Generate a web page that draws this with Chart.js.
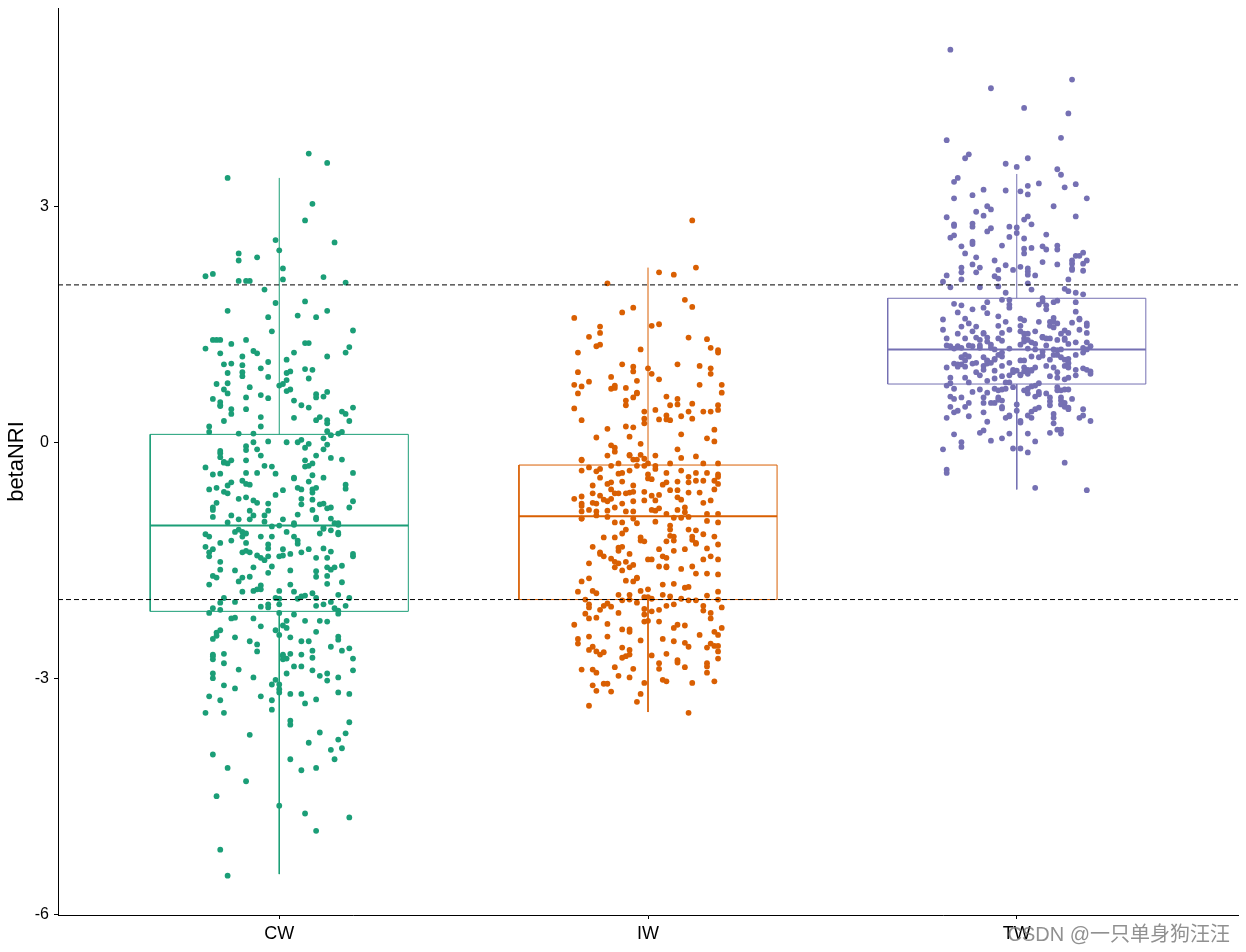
<!DOCTYPE html>
<html>
<head>
<meta charset="utf-8">
<script src="https://cdn.jsdelivr.net/npm/chart.js@4"></script>
<style>
  html, body { margin: 0; padding: 0; background: #fff; }
  canvas { display: block; }
</style>
</head>
<body>
<canvas id="boxChart" width="1246" height="952"></canvas>
<script>
// groups and box statistics (betaNRI)
const categories = ['CW', 'IW', 'TW'];
const q1s = [-2.15, -2.00, 0.74];
const medians = [-1.06, -0.94, 1.18];
const q3s = [0.10, -0.29, 1.83];
const whiskerLows = [-5.49, -3.43, -0.60];
const whiskerHighs = [3.36, 2.22, 3.41];
const yTicks = [-6, -3, 0, 3];
const refLines = [-2, 2];

// jittered points: [jitter offset from group centre, betaNRI]
const cwPoints = [
  [0.08,3.67],[0.13,3.55],[-0.14,3.36],[0.09,3.03],[0.07,2.82],[-0.01,2.57],[0.00,2.44],[0.15,2.54],[-0.11,2.40],[-0.11,2.31],
  [-0.06,2.35],[0.01,2.21],[-0.20,2.11],[-0.18,2.14],[-0.11,2.05],[-0.09,2.05],[-0.08,2.05],[0.01,2.07],[0.12,2.10],[0.18,2.03],
  [-0.04,1.94],[-0.01,1.77],[0.07,1.79],[-0.14,1.67],[0.13,1.67],[0.05,1.61],[-0.03,1.59],[0.10,1.59],[0.20,1.42],[-0.02,1.41],
  [-0.18,1.30],[-0.17,1.30],[-0.16,1.30],[-0.09,1.30],[-0.20,1.19],[-0.13,1.25],[0.07,1.26],[0.08,1.26],[0.19,1.21],[0.18,1.14],
  [-0.16,1.13],[-0.07,1.16],[-0.06,1.13],[0.04,1.14],[-0.10,1.09],[0.13,1.09],[0.02,1.05],[-0.15,0.99],[-0.13,1.00],[-0.10,0.98],
  [-0.03,1.02],[0.07,0.93],[0.09,0.92],[-0.14,0.88],[-0.10,0.89],[-0.10,0.84],[-0.05,0.94],[0.02,0.88],[0.03,0.90],[-0.03,0.83],
  [0.08,0.81],[-0.17,0.74],[-0.14,0.75],[-0.08,0.70],[0.00,0.72],[0.01,0.74],[0.02,0.79],[-0.15,0.67],[-0.14,0.62],[0.02,0.65],
  [0.03,0.67],[-0.18,0.55],[-0.09,0.57],[-0.05,0.60],[-0.03,0.56],[0.04,0.53],[0.10,0.61],[0.10,0.57],[0.12,0.58],[0.13,0.64],
  [-0.16,0.51],[-0.16,0.47],[-0.16,0.46],[0.06,0.47],[0.08,0.44],[-0.13,0.42],[-0.13,0.36],[-0.09,0.42],[0.20,0.44],[0.17,0.39],
  [0.18,0.36],[-0.05,0.32],[0.04,0.31],[-0.15,0.27],[0.10,0.28],[0.11,0.32],[0.13,0.28],[0.13,0.24],[0.19,0.27],[-0.19,0.20],
  [-0.05,0.20],[-0.19,0.13],[-0.11,0.11],[-0.07,0.11],[0.13,0.14],[0.17,0.13],[0.14,0.09],[0.16,0.11],
  [0.06,0.03],[0.05,0.00],[0.12,0.05],[0.13,-0.03],[0.08,-0.02],[0.07,-0.07],[-0.09,-0.05],[-0.09,-0.10],[-0.06,-0.09],[-0.07,0.00],
  [-0.03,0.01],[0.02,0.00],[0.12,-0.09],[-0.16,-0.11],[-0.16,-0.14],[-0.16,-0.19],[-0.15,-0.25],[-0.14,-0.27],[-0.15,-0.26],[-0.13,-0.23],
  [-0.05,-0.17],[-0.09,-0.23],[0.07,-0.23],[0.10,-0.17],[0.14,-0.20],[0.17,-0.22],[0.09,-0.27],[-0.20,-0.32],[-0.04,-0.30],[-0.02,-0.31],
  [0.07,-0.31],[0.08,-0.30],[-0.09,-0.39],[-0.06,-0.39],[-0.01,-0.40],[-0.18,-0.41],[-0.16,-0.40],[0.20,-0.39],[0.09,-0.42],[0.12,-0.45],
  [0.04,-0.45],[0.04,-0.46],[-0.10,-0.49],[-0.13,-0.51],[-0.14,-0.55],[-0.09,-0.53],[-0.08,-0.54],[0.08,-0.50],[0.18,-0.54],[0.18,-0.59],
  [-0.19,-0.60],[-0.17,-0.58],[-0.15,-0.63],[-0.14,-0.65],[0.01,-0.61],[0.05,-0.58],[0.06,-0.60],[0.09,-0.64],[0.09,-0.60],[0.10,-0.58],
  [-0.01,-0.67],[-0.11,-0.72],[-0.09,-0.70],[-0.07,-0.74],[-0.06,-0.77],[-0.03,-0.78],[0.06,-0.72],[0.09,-0.73],[-0.17,-0.77],[0.20,-0.75],
  [0.06,-0.79],[0.11,-0.79],[0.12,-0.78],[0.13,-0.84],[0.14,-0.83],[0.19,-0.83],[-0.18,-0.83],[-0.18,-0.86],[-0.08,-0.87],[-0.03,-0.87],
  [0.09,-0.86],[-0.18,-0.95],[-0.13,-0.93],[-0.07,-0.93],[-0.04,-0.93],[0.05,-0.92],[0.10,-0.96],[0.10,-0.98],[-0.11,-0.98],[-0.08,-0.98],
  [-0.04,-1.01],[0.01,-0.98],[-0.14,-1.02],[0.04,-1.05],[0.04,-1.03],[0.14,-0.97],[0.15,-1.03],[0.16,-1.05],[0.16,-1.03],[-0.02,-1.07],
  [0.00,-1.06],[0.12,-1.09],[0.12,-1.10],[-0.20,-1.17],[-0.19,-1.20],[-0.12,-1.14],[-0.11,-1.11],[-0.10,-1.14],[-0.10,-1.20],[-0.09,-1.16],
  [-0.05,-1.20],[-0.02,-1.20],[0.02,-1.14],[0.04,-1.20],[0.05,-1.25],[0.05,-1.29],[0.11,-1.16],[0.14,-1.12],[0.16,-1.15],[0.16,-1.17],
  [-0.16,-1.28],[-0.13,-1.25],[-0.09,-1.28],[-0.20,-1.33],[-0.19,-1.40],[-0.18,-1.36],[-0.19,-1.45],[-0.10,-1.40],[-0.09,-1.38],[-0.08,-1.40],
  [-0.06,-1.44],[-0.05,-1.47],[-0.04,-1.50],[-0.03,-1.45],[-0.03,-1.35],[-0.03,-1.30],[0.01,-1.36],[0.00,-1.45],[0.01,-1.44],[0.03,-1.42],
  [0.06,-1.40],[0.08,-1.36],[0.10,-1.47],[0.12,-1.35],[0.13,-1.47],[0.14,-1.39],[0.20,-1.42],[0.20,-1.45],[-0.16,-1.52],[-0.12,-1.63],
  [-0.07,-1.59],[-0.02,-1.58],[0.03,-1.63],[0.10,-1.64],[0.10,-1.71],[0.13,-1.59],[0.14,-1.62],[0.15,-1.59],[0.17,-1.57],[-0.18,-1.70],
  [-0.16,-1.62],[-0.17,-1.72],[-0.10,-1.72],[-0.08,-1.71],[-0.03,-1.66],[0.13,-1.70],[-0.19,-1.81],[-0.11,-1.77],[-0.10,-1.90],[-0.07,-1.89],
  [-0.06,-1.87],[-0.05,-1.82],[-0.05,-1.87],[0.03,-1.81],[0.04,-1.90],[0.06,-1.96],[0.07,-1.95],[0.09,-1.92],[0.10,-1.98],[0.13,-1.80],
  [0.17,-1.78],[0.16,-1.94],[0.19,-1.98],[-0.15,-1.98],[-0.12,-2.03],[-0.16,-2.04],[0.00,-1.89],[-0.01,-1.98],[0.00,-1.99],[-0.05,-2.09],
  [-0.03,-2.10],[-0.03,-2.06],[0.00,-2.06],[0.05,-1.99],[0.10,-2.08],[0.12,-2.06],[0.14,-2.03],[0.18,-2.08],[0.15,-2.11],[0.16,-2.14],
  [-0.18,-2.11],[-0.16,-2.13],[-0.19,-2.17],[0.00,-2.17],[0.16,-2.18],[0.04,-2.19],[-0.13,-2.24],[-0.12,-2.23],[-0.07,-2.24],[-0.05,-2.34],
  [0.02,-2.27],[0.07,-2.27],[0.11,-2.27],[0.13,-2.28],[0.01,-2.33],[0.02,-2.36],[0.10,-2.41],[-0.01,-2.39],[0.00,-2.45],[-0.17,-2.42],
  [-0.17,-2.46],[-0.16,-2.39],[-0.18,-2.50],[-0.12,-2.48],[0.03,-2.48],[0.06,-2.53],[0.08,-2.53],[0.16,-2.47],[0.16,-2.51],[0.14,-2.60],
  [0.17,-2.65],[0.19,-2.62],[-0.08,-2.53],[-0.06,-2.57],[-0.06,-2.66],[0.01,-2.70],[0.01,-2.76],[0.02,-2.75],[0.01,-2.72],[0.03,-2.69],
  [0.06,-2.70],[0.09,-2.65],[0.09,-2.74],[-0.15,-2.69],[-0.15,-2.81],[-0.18,-2.70],[-0.18,-2.76],[-0.18,-2.72],[0.04,-2.85],[0.06,-2.85],
  [0.09,-2.90],[0.13,-2.94],[0.11,-2.97],[0.13,-3.03],[0.20,-2.75],[0.20,-2.90],[-0.11,-2.89],[0.02,-2.94],[0.16,-2.99],[-0.18,-2.94],
  [-0.18,-3.00],[-0.07,-2.99],[-0.01,-3.02],[-0.02,-3.08],[0.00,-3.08],[0.00,-3.14],[0.00,-3.18],[0.03,-3.20],[0.06,-3.20],[0.07,-3.32],
  [0.10,-3.27],[0.16,-3.18],[0.19,-3.20],[-0.12,-3.13],[-0.15,-3.09],[-0.19,-3.23],[-0.16,-3.28],[-0.15,-3.44],[-0.20,-3.44],[-0.05,-3.23],
  [-0.02,-3.28],[-0.02,-3.40],[0.03,-3.54],[0.03,-3.59],[0.19,-3.56],[0.18,-3.70],[0.16,-3.78],[0.17,-3.89],[0.14,-3.91],[0.15,-4.03],
  [0.11,-3.69],[0.08,-3.82],[-0.08,-3.72],[-0.18,-3.97],[0.03,-4.03],[-0.14,-4.14],[-0.09,-4.31],[0.06,-4.17],[0.10,-4.14],[-0.17,-4.50],
  [0.00,-4.62],[0.07,-4.72],[0.19,-4.77],[0.10,-4.94],[-0.16,-5.18],[-0.14,-5.51]
];

const iwPoints = [
  [0.12,2.82],[0.03,2.16],[0.07,2.13],[0.13,2.22],[-0.11,2.02],[0.10,1.81],[0.12,1.72],[-0.20,1.58],[-0.07,1.65],[-0.04,1.71],
  [-0.13,1.47],[-0.13,1.39],[-0.16,1.34],[-0.14,1.22],[-0.13,1.24],[-0.19,1.14],[0.01,1.48],[0.03,1.50],[0.11,1.33],[0.16,1.31],
  [0.17,1.20],[0.19,1.17],[0.19,1.14],[-0.02,1.18],[-0.19,0.89],[-0.20,0.73],[-0.18,0.71],[-0.19,0.62],[-0.16,0.77],[-0.10,0.83],
  [-0.07,0.99],[-0.04,0.96],[-0.04,0.90],[0.00,0.94],[0.01,0.87],[-0.03,0.78],[-0.10,0.68],[-0.09,0.69],[-0.09,0.72],[-0.06,0.69],
  [0.03,0.80],[0.08,0.99],[0.14,0.97],[0.17,0.94],[0.17,0.87],[0.14,0.73],[0.20,0.73],[0.20,0.63],[-0.03,0.63],[-0.03,0.62],
  [-0.04,0.57],[-0.06,0.53],[-0.06,0.47],[-0.20,0.43],[-0.18,0.28],[-0.01,0.39],[0.02,0.41],[0.05,0.58],[0.06,0.47],[0.08,0.55],
  [0.08,0.48],[0.12,0.49],[0.11,0.39],[0.15,0.39],[0.17,0.39],[0.19,0.47],[0.19,0.41],[-0.01,0.30],[-0.01,0.24],[0.03,0.29],
  [0.05,0.34],[0.05,0.29],[0.06,0.28],[0.09,0.33],[0.12,0.30],[-0.11,0.17],[-0.06,0.20],[-0.04,0.19],[-0.14,0.06],[-0.05,0.07],
  [0.09,0.10],[0.18,0.16],[0.16,0.05],[0.18,0.01],[-0.02,-0.02],[-0.10,-0.04],[-0.09,-0.07],[-0.09,-0.12],[-0.11,-0.17],[-0.05,-0.17],
  [-0.05,-0.16],[-0.02,-0.16],[-0.01,-0.21],[0.02,-0.17],[0.08,-0.09],[0.09,-0.20],[0.13,-0.18],[-0.18,-0.22],
  [-0.18,-0.23],[-0.16,-0.32],[-0.18,-0.36],[-0.13,-0.34],[-0.14,-0.37],[-0.10,-0.30],[-0.08,-0.27],[-0.07,-0.39],[-0.08,-0.40],[-0.05,-0.36],
  [-0.04,-0.22],[-0.03,-0.22],[-0.03,-0.30],[-0.01,-0.30],[0.00,-0.27],[0.02,-0.30],[0.02,-0.34],[0.00,-0.41],[0.05,-0.39],[0.06,-0.27],
  [0.09,-0.36],[0.11,-0.44],[0.13,-0.39],[0.15,-0.27],[0.16,-0.39],[0.19,-0.27],[0.19,-0.41],[0.19,-0.44],[0.18,-0.49],[-0.13,-0.45],
  [-0.11,-0.53],[-0.15,-0.55],[-0.10,-0.51],[-0.07,-0.50],[-0.04,-0.55],[0.00,-0.46],[0.01,-0.47],[0.04,-0.54],[0.05,-0.51],[0.08,-0.50],
  [0.11,-0.51],[0.13,-0.49],[0.15,-0.49],[-0.15,-0.65],[-0.13,-0.68],[-0.12,-0.73],[-0.14,-0.78],[-0.18,-0.69],[-0.20,-0.72],[-0.18,-0.78],
  [-0.18,-0.81],[-0.18,-0.88],[-0.18,-0.97],[-0.16,-0.86],[-0.15,-0.77],[-0.14,-0.88],[-0.11,-0.75],[-0.11,-0.87],[-0.10,-0.60],[-0.09,-0.65],
  [-0.10,-0.72],[-0.08,-0.65],[-0.06,-0.65],[-0.05,-0.64],[-0.04,-0.63],[-0.07,-0.78],[-0.09,-0.83],[-0.06,-0.88],[-0.04,-0.75],[-0.04,-0.88],
  [-0.04,-0.97],[-0.01,-0.74],[-0.01,-0.63],[0.01,-0.68],[0.02,-0.74],[0.01,-0.86],[0.02,-0.87],[0.03,-0.84],[0.05,-0.91],[0.03,-0.67],
  [0.06,-0.61],[0.08,-0.70],[0.08,-0.61],[0.09,-0.73],[0.11,-0.64],[0.14,-0.64],[0.15,-0.77],[0.17,-0.74],[0.18,-0.60],[0.19,-0.53],
  [0.08,-0.86],[0.07,-0.96],[0.09,-0.96],[0.10,-0.89],[0.10,-0.83],[0.11,-0.95],[0.16,-0.91],[0.19,-0.91],[-0.11,-0.95],[-0.14,-0.93],
  [-0.18,-0.97],[-0.09,-1.02],[-0.07,-1.02],[0.16,-1.00],[0.19,-1.02],[-0.03,-1.03],[0.02,-1.01],[0.06,-1.06],[0.06,-1.11],[0.11,-1.11],
  [0.13,-1.12],[0.15,-1.17],[0.18,-1.20],[-0.12,-1.21],[-0.09,-1.21],[-0.07,-1.16],[-0.06,-1.11],[-0.02,-1.21],[-0.02,-1.25],[-0.01,-1.26],
  [0.06,-1.19],[0.07,-1.20],[0.07,-1.25],[0.05,-1.26],[0.12,-1.20],[0.12,-1.24],[0.13,-1.28],[0.13,-1.29],[-0.15,-1.33],[-0.13,-1.42],
  [-0.13,-1.40],[-0.12,-1.45],[-0.08,-1.38],[-0.08,-1.34],[-0.07,-1.33],[-0.05,-1.42],[0.03,-1.36],[0.07,-1.38],[0.10,-1.36],[0.16,-1.35],
  [0.19,-1.30],[-0.10,-1.48],[-0.09,-1.52],[-0.08,-1.54],[-0.09,-1.59],[-0.16,-1.54],[-0.06,-1.52],[-0.05,-1.59],[-0.04,-1.56],[-0.07,-1.63],
  [0.00,-1.49],[0.01,-1.49],[0.04,-1.45],[0.05,-1.47],[0.03,-1.58],[0.05,-1.59],[0.05,-1.58],[0.09,-1.61],[0.12,-1.58],[0.13,-1.67],
  [0.15,-1.49],[0.16,-1.67],[0.17,-1.45],[0.19,-1.49],[0.19,-1.68],[-0.18,-1.77],[-0.16,-1.73],[-0.06,-1.76],[-0.04,-1.77],[-0.03,-1.73],
  [-0.03,-1.72],[0.04,-1.81],[0.07,-1.80],[-0.19,-1.90],[-0.15,-1.89],[-0.14,-1.92],[-0.17,-2.00],[-0.08,-1.94],[-0.05,-1.94],[-0.02,-1.89],
  [0.00,-1.87],[-0.01,-1.97],[0.00,-1.97],[0.01,-1.99],[0.04,-1.94],[0.06,-1.96],[0.09,-1.99],[0.10,-1.85],[0.11,-1.84],[0.11,-2.01],
  [0.13,-2.01],[0.16,-1.95],[0.19,-1.90],[0.19,-2.00],[-0.07,-2.01],[-0.05,-2.00],[-0.03,-2.04],[-0.16,-2.06],[-0.16,-2.10],[-0.17,-2.18],
  [-0.16,-2.24],[-0.14,-2.23],[-0.13,-2.13],[-0.12,-2.08],[-0.11,-2.05],[-0.10,-2.09],[-0.08,-2.17],[-0.01,-2.12],[-0.01,-2.19],[0.01,-2.15],
  [-0.01,-2.28],[0.00,-2.27],[0.03,-2.13],[0.03,-2.28],[0.05,-2.08],[0.07,-2.06],[0.15,-2.08],[0.15,-2.14],[0.17,-2.17],[0.17,-2.24],
  [0.20,-2.10],[-0.20,-2.32],[-0.11,-2.31],[-0.07,-2.38],[-0.05,-2.38],[-0.05,-2.41],[0.07,-2.36],[0.08,-2.32],[0.10,-2.33],[0.20,-2.36],
  [0.18,-2.41],[0.19,-2.45],[0.14,-2.45],[-0.16,-2.47],[-0.19,-2.50],[-0.19,-2.56],[-0.11,-2.47],[-0.02,-2.52],[0.04,-2.50],[0.07,-2.53],
  [0.10,-2.55],[0.11,-2.60],[0.17,-2.56],[0.16,-2.61],[0.18,-2.59],[0.19,-2.59],[0.19,-2.66],[0.19,-2.75],[-0.16,-2.64],[-0.15,-2.60],
  [-0.14,-2.66],[-0.13,-2.70],[-0.12,-2.67],[-0.07,-2.61],[-0.07,-2.74],[-0.06,-2.72],[-0.05,-2.64],[-0.05,-2.70],[0.05,-2.69],[0.01,-2.71],
  [0.03,-2.81],[0.08,-2.77],[0.08,-2.80],[0.16,-2.81],[0.16,-2.85],[-0.18,-2.89],[-0.15,-2.89],[-0.14,-2.93],[-0.09,-2.86],[-0.04,-2.88],
  [-0.08,-2.97],[-0.05,-2.99],[0.03,-2.88],[0.04,-3.02],[0.05,-3.04],[0.10,-2.86],[0.16,-2.93],[0.18,-3.04],[-0.01,-3.06],[0.12,-3.06],
  [-0.15,-3.09],[-0.14,-3.16],[-0.12,-3.07],[-0.11,-3.07],[-0.10,-3.17],[-0.02,-3.20],[-0.03,-3.30],[-0.16,-3.35],[0.11,-3.44]
];

const twPoints = [
  [-0.18,4.99],[0.15,4.61],[-0.07,4.50],[0.02,4.25],[0.14,4.18],[-0.19,3.84],[0.12,3.87],[-0.13,3.66],[-0.14,3.61],[0.03,3.61],
  [-0.03,3.54],[0.00,3.50],[0.11,3.47],[0.12,3.40],[-0.16,3.36],[-0.17,3.31],[0.06,3.29],[0.03,3.26],[0.13,3.24],[0.16,3.28],
  [0.01,3.19],[0.03,3.15],[-0.03,3.20],[-0.09,3.21],[-0.12,3.14],[-0.17,3.10],[0.19,3.10],[0.10,3.00],[-0.08,3.00],[-0.07,2.96],
  [-0.11,2.93],[-0.09,2.88],[-0.19,2.86],[0.03,2.87],[0.02,2.83],[0.16,2.87],[-0.17,2.77],[-0.17,2.75],[-0.12,2.78],[-0.12,2.74],
  [0.04,2.77],[-0.02,2.74],[0.00,2.73],[0.00,2.66],[-0.08,2.68],[-0.07,2.72],[-0.18,2.60],[-0.17,2.63],[-0.02,2.61],[0.02,2.59],
  [0.08,2.64],[-0.12,2.55],[-0.12,2.52],[-0.15,2.49],[-0.04,2.50],[0.02,2.46],[0.02,2.40],[0.04,2.47],[0.07,2.49],[0.08,2.45],
  [0.11,2.50],[0.11,2.45],[-0.14,2.40],[-0.11,2.35],[-0.06,2.31],[0.07,2.29],[0.11,2.26],[0.16,2.37],[0.18,2.41],[0.17,2.37],
  [0.15,2.31],[0.15,2.27],[0.19,2.31],[0.18,2.27],[-0.12,2.26],[-0.10,2.22],[-0.15,2.22],[-0.15,2.16],[-0.11,2.16],[-0.05,2.19],
  [-0.03,2.25],[-0.01,2.19],[0.01,2.23],[0.03,2.21],[0.03,2.17],[0.03,2.13],[0.05,2.12],[0.15,2.19],[0.15,2.21],[0.18,2.18],
  [-0.19,2.12],[-0.15,2.07],[-0.06,2.11],[-0.05,2.08],[0.14,2.07],
  [-0.20,2.04],[-0.18,1.97],[-0.10,1.97],[-0.05,1.98],[-0.03,1.90],[-0.04,1.81],[-0.02,1.81],[0.04,1.94],[0.03,2.02],[0.13,1.95],
  [0.14,1.92],[0.16,1.90],[0.18,1.88],[-0.17,1.76],[-0.15,1.74],[-0.16,1.65],[-0.14,1.57],[-0.12,1.69],[-0.09,1.71],[-0.08,1.78],
  [-0.08,1.64],[-0.05,1.60],[-0.02,1.75],[-0.02,1.71],[0.06,1.75],[0.07,1.79],[0.07,1.83],[0.08,1.74],[0.08,1.69],[0.10,1.78],
  [0.11,1.80],[0.16,1.78],[0.16,1.66],[0.17,1.57],[0.10,1.58],[-0.20,1.56],[-0.20,1.43],[-0.15,1.47],[-0.16,1.38],[-0.13,1.51],
  [-0.12,1.41],[-0.11,1.47],[-0.09,1.38],[-0.09,1.39],[-0.08,1.33],[-0.05,1.48],[-0.04,1.39],[-0.03,1.53],[-0.02,1.43],[0.01,1.41],
  [0.01,1.57],[0.02,1.55],[0.01,1.48],[0.02,1.38],[0.03,1.38],[0.02,1.32],[0.06,1.53],[0.05,1.41],[0.07,1.34],[0.07,1.34],
  [0.09,1.53],[0.09,1.48],[0.10,1.53],[0.11,1.51],[0.10,1.46],[0.12,1.38],[0.13,1.42],[0.13,1.32],[0.15,1.52],[0.14,1.39],
  [0.17,1.43],[0.17,1.56],[0.19,1.51],[0.19,1.48],[0.19,1.39],[-0.19,1.32],[-0.14,1.32],[-0.11,1.33],[-0.10,1.30],[-0.08,1.28],
  [-0.05,1.32],[-0.04,1.29],[-0.07,1.24],[-0.07,1.20],[0.01,1.24],[0.02,1.28],[0.03,1.30],[0.04,1.27],[0.05,1.25],[0.07,1.33],
  [0.08,1.32],[0.09,1.32],[0.11,1.30],[0.13,1.30],[0.14,1.25],[0.16,1.27],[0.19,1.27],[0.18,1.20],[0.20,1.22],[-0.19,1.23],
  [-0.18,1.22],[-0.16,1.22],[-0.17,1.19],[-0.15,1.20],[-0.13,1.23],[-0.12,1.22],[-0.10,1.20],[-0.10,1.23],[-0.06,1.18],[-0.02,1.19],
  [0.03,1.19],[0.05,1.18],[0.08,1.23],[0.10,1.18],[0.12,1.18],[-0.14,1.11],[-0.15,1.08],[-0.14,1.04],[-0.13,1.09],[-0.11,1.01],
  [-0.09,1.08],[-0.08,1.03],[-0.08,1.04],[-0.06,1.06],[-0.05,1.11],[-0.04,1.09],[-0.04,1.14],[-0.07,1.01],[-0.06,1.05],[0.01,1.04],
  [0.02,1.04],[0.04,1.09],[0.06,1.08],[0.07,1.15],[0.07,1.10],[0.09,1.05],[0.10,1.11],[0.11,1.17],[0.11,1.11],[0.12,1.08],
  [0.13,1.05],[0.14,1.06],[0.14,1.01],[0.16,1.11],[0.18,1.14],[0.19,1.18],[-0.19,0.95],[-0.17,1.00],[-0.16,0.99],[-0.16,0.96],
  [-0.15,0.99],[-0.14,0.96],[-0.12,1.00],[-0.09,0.97],[-0.08,1.00],[-0.04,0.97],[-0.02,1.01],[-0.01,0.92],[0.00,0.91],[0.02,0.95],
  [0.03,0.92],[0.04,0.91],[0.05,0.95],[0.08,0.97],[0.10,0.95],[0.13,0.97],[0.14,1.00],[0.14,0.95],[0.16,0.92],[0.18,0.94],
  [0.19,0.92],[0.20,0.90],[0.20,0.87],[-0.18,0.82],[-0.19,0.72],[-0.18,0.75],[-0.14,0.82],[-0.11,0.89],[-0.10,0.85],[-0.09,0.92],
  [-0.06,0.91],[-0.04,0.84],[-0.02,0.85],[-0.01,0.89],[0.01,0.85],[0.01,0.86],[0.02,0.90],[0.03,0.87],[0.04,0.92],[0.06,0.75],
  [0.05,0.72],[0.09,0.84],[0.11,0.89],[0.11,0.82],[0.13,0.80],[0.14,0.82],[0.16,0.85],[-0.02,0.76],[-0.13,0.76],[-0.08,0.78],
  [-0.06,0.81],[-0.03,0.76],[-0.17,0.68],[-0.18,0.58],[-0.17,0.55],[-0.15,0.57],[-0.12,0.64],[-0.10,0.67],[-0.09,0.57],[-0.08,0.63],
  [-0.06,0.68],[-0.05,0.66],[-0.04,0.67],[-0.03,0.68],[-0.01,0.70],[0.03,0.68],[0.02,0.66],[0.03,0.62],[0.04,0.71],[0.06,0.64],
  [0.05,0.58],[0.06,0.61],[0.08,0.62],[0.11,0.70],[0.11,0.66],[0.12,0.66],[0.13,0.67],[0.14,0.67],[0.15,0.55],[0.12,0.57],
  [0.12,0.53],[0.09,0.57],[0.09,0.52],[-0.05,0.57],[-0.05,0.54],[-0.04,0.53],[-0.07,0.50],[-0.06,0.50],[-0.09,0.50],[-0.13,0.50],
  [0.13,0.50],[-0.18,0.45],[-0.16,0.40],[-0.17,0.38],[-0.14,0.45],[-0.13,0.33],[-0.09,0.38],[-0.04,0.45],[-0.04,0.43],[-0.03,0.31],
  [-0.02,0.33],[-0.02,0.34],[0.00,0.48],[0.00,0.40],[0.03,0.34],[0.04,0.39],[0.04,0.31],[0.05,0.42],[0.06,0.44],[0.09,0.47],
  [0.10,0.36],[0.10,0.31],[0.12,0.48],[0.13,0.45],[0.14,0.44],[0.14,0.42],[0.18,0.42],[0.18,0.34],[0.17,0.31],[-0.19,0.31],
  [-0.08,0.26],[0.01,0.27],[0.01,0.25],[0.20,0.27],[0.10,0.24],[0.09,0.12],[0.11,0.16],[0.12,0.16],[0.12,0.11],[-0.10,0.12],
  [-0.09,0.15],[-0.17,0.10],[-0.15,0.00],[-0.15,-0.06],[-0.07,0.02],[-0.04,0.05],[-0.02,0.11],[0.03,0.11],[0.05,0.01],[-0.01,-0.08],
  [0.01,-0.08],[0.03,-0.13],[-0.20,-0.09],[0.13,-0.26],[-0.19,-0.35],[-0.19,-0.39],[0.05,-0.58],[0.19,-0.61]
];

const groupColors = ['#1B9E77', '#D95F02', '#7570B3'];
const axisFont = '"Liberation Sans", Arial, sans-serif';

document.addEventListener('DOMContentLoaded', function() {
    const ctx = document.getElementById('boxChart').getContext('2d');

    const allPoints = [cwPoints, iwPoints, twPoints];
    const halfBox = 0.35;
    const xMin = 0.4;
    const xMax = 3.6;
    const datasets = [];

    function segment(points, color, width, order, dash) {
        return {
            data: points,
            showLine: true,
            borderColor: color,
            borderWidth: width,
            borderDash: dash || [],
            pointRadius: 0,
            pointHoverRadius: 0,
            fill: false,
            tension: 0,
            order: order
        };
    }

    categories.forEach(function(cat, i) {
        const c = i + 1;
        const col = groupColors[i];
        datasets.push(segment([
            { x: c - halfBox, y: q1s[i] }, { x: c + halfBox, y: q1s[i] },
            { x: c + halfBox, y: q3s[i] }, { x: c - halfBox, y: q3s[i] },
            { x: c - halfBox, y: q1s[i] }
        ], col, 1, 1));
        datasets.push(segment([{ x: c - halfBox, y: medians[i] }, { x: c + halfBox, y: medians[i] }], col, 2, 1));
        datasets.push(segment([{ x: c, y: q3s[i] }, { x: c, y: whiskerHighs[i] }], col, 1, 1));
        datasets.push(segment([{ x: c, y: q1s[i] }, { x: c, y: whiskerLows[i] }], col, 1, 1));
        datasets.push({
            label: cat,
            data: allPoints[i].map(function(p) { return { x: c + p[0], y: p[1] }; }),
            backgroundColor: col,
            borderWidth: 0,
            pointRadius: 2.9,
            pointHoverRadius: 2.9,
            order: 3
        });
    });

    refLines.forEach(function(v) {
        datasets.push(segment([{ x: xMin, y: v }, { x: xMax, y: v }], '#000000', 1, 0, [5, 3]));
    });

    const watermark = {
        id: 'watermark',
        afterDraw: function(chart) {
            const c = chart.ctx;
            c.save();
            c.font = '20px "Liberation Sans", "Noto Sans CJK SC", sans-serif';
            c.fillStyle = 'rgba(125,125,125,0.85)';
            c.textAlign = 'right';
            c.textBaseline = 'alphabetic';
            c.fillText('CSDN @一只单身狗汪汪', 1230, 941);
            c.restore();
        }
    };

    const config = {
        type: 'scatter',
        data: { datasets: datasets },
        options: {
            responsive: false,
            animation: false,
            events: [],
            layout: { padding: { top: 8, right: 8, left: 0, bottom: 0 } },
            scales: {
                x: {
                    type: 'linear',
                    min: xMin,
                    max: xMax,
                    afterBuildTicks: function(scale) {
                        scale.ticks = categories.map(function(_, i) { return { value: i + 1 }; });
                    },
                    afterFit: function(scale) {
                        scale.height = 37;
                        scale.paddingLeft = 0;
                        scale.paddingRight = 0;
                    },
                    ticks: {
                        autoSkip: false,
                        maxRotation: 0,
                        padding: 4,
                        color: '#000',
                        font: { family: axisFont, size: 18 },
                        callback: function(value) { return categories[Math.round(value) - 1]; }
                    },
                    grid: { display: true, drawOnChartArea: false, drawTicks: true, tickLength: 4, color: '#000' },
                    border: { display: true, color: '#000', width: 1 }
                },
                y: {
                    type: 'linear',
                    min: -6.01,
                    max: 5.52,
                    afterBuildTicks: function(scale) {
                        scale.ticks = yTicks.map(function(v) { return { value: v }; });
                    },
                    afterFit: function(scale) {
                        scale.width = 58;
                        scale.paddingTop = 0;
                        scale.paddingBottom = 0;
                    },
                    ticks: {
                        padding: 5,
                        color: '#000',
                        font: { family: axisFont, size: 16 },
                        callback: function(value) { return String(value); }
                    },
                    title: {
                        display: true,
                        text: 'betaNRI',
                        color: '#000',
                        font: { family: axisFont, size: 22 },
                        padding: { top: 4, bottom: 4 }
                    },
                    grid: { display: true, drawOnChartArea: false, drawTicks: true, tickLength: 4, color: '#000' },
                    border: { display: true, color: '#000', width: 1 }
                }
            },
            plugins: {
                legend: { display: false },
                tooltip: { enabled: false }
            }
        },
        plugins: [watermark]
    };

    const boxChart = new Chart(ctx, config);
});
</script>
</body>
</html>
